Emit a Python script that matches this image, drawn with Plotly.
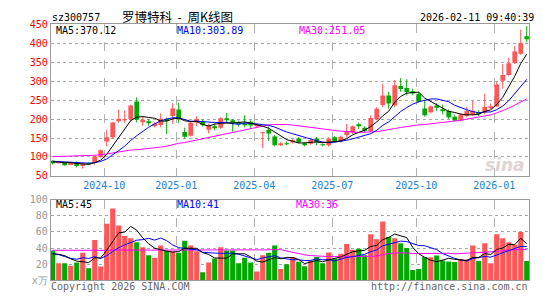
import plotly.graph_objects as go
import pandas as pd

# ---------------- data (weekly bars) ----------------
first_week = "2024-08-05"   # Monday of the first weekly bar

open_ = [90, 85, 84, 79, 86, 76, 82, 85, 100, 141,
         152, 194, 197, 200, 246, 193, 194, 183, 184, 201,
         208, 225, 166, 156, 190, 195, 172, 180, 177, 201,
         197, 192, 187, 193, 182, 164, 172, 154, 133, 136,
         138, 149, 134, 135, 149, 133, 131, 152, 141, 158,
         164, 184, 177, 168, 200, 237, 262, 236, 287, 282,
         272, 266, 228, 218, 236, 224, 221, 206, 197, 208,
         212, 218, 217, 230, 233, 301, 316, 348, 372, 418]
high = [91, 89, 85, 87, 88, 84, 86, 103, 120, 172,
        192, 225, 222, 238, 257, 207, 199, 192, 215, 204,
        242, 243, 177, 193, 208, 199, 188, 188, 205, 216,
        200, 196, 210, 197, 188, 167, 180, 158, 140, 141,
        147, 152, 139, 147, 153, 135, 152, 155, 156, 187,
        183, 191, 181, 210, 231, 293, 272, 303, 308, 305,
        280, 272, 250, 236, 242, 238, 225, 212, 215, 232,
        248, 224, 267, 241, 299, 345, 362, 392, 436, 445]
low = [80, 83, 77, 78, 72, 69, 79, 80, 98, 128,
       148, 190, 190, 195, 191, 182, 182, 178, 178, 160,
       187, 189, 148, 154, 182, 180, 162, 170, 174, 190,
       167, 180, 178, 175, 178, 123, 142, 128, 129, 131,
       135, 136, 128, 132, 131, 128, 127, 137, 138, 152,
       160, 174, 164, 166, 197, 231, 227, 231, 272, 262,
       263, 243, 206, 215, 221, 212, 200, 193, 193, 205,
       209, 208, 212, 226, 231, 280, 313, 345, 369, 402]
close = [86, 87, 79, 85, 76, 82, 81, 101, 118, 152,
         191, 201, 199, 236, 198, 198, 190, 188, 201, 195,
         228, 200, 153, 190, 200, 184, 182, 176, 202, 199,
         189, 188, 185, 183, 184, 165, 162, 131, 135, 135,
         144, 139, 133, 145, 138, 132, 148, 141, 153, 168,
         181, 181, 169, 203, 227, 262, 241, 289, 279, 271,
         270, 246, 210, 233, 230, 223, 205, 196, 211, 221,
         222, 214, 232, 233, 291, 316, 347, 378, 400, 413]
volume = [37, 21, 21, 18, 22, 34, 15, 50, 17, 70,
          89, 68, 55, 52, 47, 41, 31, 28, 43, 37,
          36, 34, 49, 43, 36, 10, 22, 27, 41, 37,
          37, 21, 28, 22, 11, 31, 34, 43, 14, 20,
          29, 23, 17.5, 24.6, 29, 21, 34.5, 27, 33, 45,
          37.7, 39, 31, 57, 51, 73, 53.6, 52, 46, 40,
          12.7, 14, 29, 28.6, 30.6, 24.6, 23.4, 22.6, 26.5, 25.7,
          43, 24, 46, 21, 57, 52, 47, 44, 60, 24]

# weeks before the visible window (only feed the moving averages)
pre_close = [62, 60, 65, 66, 66, 78, 84, 88, 92, 91,
             110, 140, 165, 170, 157, 150, 135, 125, 120, 112,
             95, 90, 92, 88, 90, 86, 88, 84, 88]
pre_volume = [24, 19, 20, 25, 31, 18, 46, 22, 64, 80,
              72, 58, 49, 44, 38, 33, 30, 40, 35, 38,
              33, 45, 40, 34, 14, 24, 29, 38, 36]

month_first_bars = ["2024-10-11", "2025-01-03", "2025-04-03",
                    "2025-07-04", "2025-10-10", "2026-01-09"]
price_ticks = [50, 100, 150, 200, 250, 300, 350, 400, 450]
vol_ticks = [0, 20, 40, 60, 80, 100]
vol_tick_text = ["x万", "20", "40", "60", "80", "100"]

price_ma_text = ["MA5:370.12", "MA10:303.89", "MA30:251.05"]
vol_ma_text = ["MA5:45", "MA10:41", "MA30:36"]

# ---------------- derived ----------------
N = len(close)
xs = list(range(N))
start = pd.Timestamp(first_week)
tick_pos = [((pd.Timestamp(d) - start).days // 7) - 0.4 for d in month_first_bars]
tick_text = [d[:7] for d in month_first_bars]


def moving_avg(pre, vals, n):
    full = pre + vals
    off = len(pre)
    return [sum(full[off + i - n + 1: off + i + 1]) / n for i in range(len(vals))]


ma_c = {n: moving_avg(pre_close, close, n) for n in (5, 10, 30)}
ma_v = {n: moving_avg(pre_volume, volume, n) for n in (5, 10, 30)}

RED = "#ff5757"
GREEN = "#00a800"
up = [c >= o for o, c in zip(open_, close)]
colors = [RED if u else GREEN for u in up]
body_base = [min(o, c) for o, c in zip(open_, close)]
body_h = [max(abs(c - o), 0.9) for o, c in zip(open_, close)]

fig = go.Figure()

# wicks
for flag, col in ((True, RED), (False, GREEN)):
    wx, wy = [], []
    for i in xs:
        if up[i] == flag:
            wx += [i, i, None]
            wy += [low[i], high[i], None]
    fig.add_trace(go.Scatter(x=wx, y=wy, mode="lines", line=dict(color=col, width=1),
                             xaxis="x", yaxis="y", hoverinfo="skip"))

# bodies
fig.add_trace(go.Bar(x=xs, y=body_h, base=body_base, width=0.78,
                     marker=dict(color=colors, line=dict(width=0)),
                     xaxis="x", yaxis="y"))

# price moving averages
for n, col in ((30, "#ff00ff"), (10, "#0000ff"), (5, "#000000")):
    fig.add_trace(go.Scatter(x=xs, y=ma_c[n], mode="lines", line=dict(color=col, width=1),
                             xaxis="x", yaxis="y"))

# volume bars
fig.add_trace(go.Bar(x=xs, y=volume, width=0.85,
                     marker=dict(color=colors, line=dict(width=0)),
                     xaxis="x2", yaxis="y2"))
for n, col in ((30, "#ff00ff"), (10, "#0000ff"), (5, "#000000")):
    fig.add_trace(go.Scatter(x=xs, y=ma_v[n], mode="lines", line=dict(color=col, width=1),
                             xaxis="x2", yaxis="y2"))

W, H = 545, 300
X0, X1 = 50.7 / W, 529 / W
mono = "DejaVu Sans Mono"

axis_common = dict(showline=True, linecolor="#999999", linewidth=1, mirror=True,
                   zeroline=False, ticks="")

fig.update_layout(
    width=W, height=H, margin=dict(l=0, r=0, t=0, b=0),
    paper_bgcolor="white", plot_bgcolor="white", showlegend=False,
    barmode="overlay",
    xaxis=dict(domain=[X0, X1], anchor="y", range=[-0.333, N - 1 + 0.38],
               tickmode="array", tickvals=tick_pos, ticktext=tick_text,
               tickfont=dict(family=mono, size=10, color="#1a7fd0"),
               showgrid=True, gridcolor="#b0b0b0", griddash="dash", gridwidth=1,
               **axis_common),
    yaxis=dict(domain=[1 - 177 / H, 1 - 19 / H], anchor="x", range=[50, 450],
               tickmode="array", tickvals=price_ticks,
               tickfont=dict(family=mono, size=10, color="#ff0000"),
               showgrid=True, gridcolor="#a8a8a8", griddash="dot", gridwidth=1,
               **axis_common),
    xaxis2=dict(domain=[X0, X1], anchor="y2", matches="x", showticklabels=False,
                tickmode="array", tickvals=tick_pos,
                showgrid=True, gridcolor="#b0b0b0", griddash="dash", gridwidth=1,
                **axis_common),
    yaxis2=dict(domain=[1 - 285.7 / H, 1 - 201.7 / H], anchor="x2", range=[0, 100],
                tickmode="array", tickvals=vol_ticks, ticktext=vol_tick_text,
                tickfont=dict(family=mono, size=10, color="#999999"),
                showgrid=True, gridcolor="#a8a8a8", griddash="dot", gridwidth=1,
                **axis_common),
)


def px_note(text, x, y, color="#000", size=10, xanchor="left", family=mono, **kw):
    fig.add_annotation(text=text, x=x / W, y=1 - y / H, xref="paper", yref="paper",
                       xanchor=xanchor, yanchor="middle", showarrow=False,
                       font=dict(family=family, size=size, color=color), **kw)


px_note("sz300757", 50, 12.5)
px_note("罗博特科\u00a0\u00a0-\u00a0\u00a0周K线图", 120, 10.5, size=12.5, family="Noto Sans CJK SC")
px_note("2026-02-11 09:40:39", 536, 12.5, xanchor="right")

ma_cols = ["#000000", "#0000ff", "#ff00ff"]
for t, xp, c in zip(price_ma_text, (54, 175, 297), ma_cols):
    px_note(t, xp, 25.5, color=c)
for t, xp, c in zip(vol_ma_text, (54, 175, 294), ma_cols):
    px_note(t, xp, 206.5, color=c)

px_note("Copyright 2026 SINA.COM", 49, 292, color="#666666")
px_note("http://finance.sina.com.cn", 530, 292, color="#666666", xanchor="right")
fig.add_annotation(text="<i><b>sina</b></i>", x=527 / W, y=1 - 166 / H, xref="paper", yref="paper",
                   xanchor="right", yanchor="middle", showarrow=False,
                   font=dict(family="DejaVu Sans", size=17, color="#e0d4d4"))

fig.write_html("out.html")
